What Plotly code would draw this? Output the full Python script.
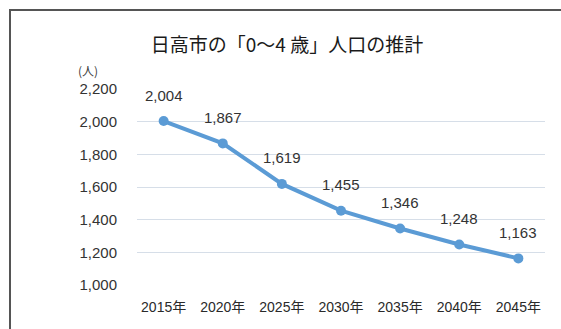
import plotly.graph_objects as go

years = ["2015年", "2020年", "2025年", "2030年", "2035年", "2040年", "2045年"]
population = [2004, 1867, 1619, 1455, 1346, 1248, 1163]
y_ticks = [1000, 1200, 1400, 1600, 1800, 2000, 2200]
y_tick_text = ["1,000", "1,200", "1,400", "1,600", "1,800", "2,000", "2,200"]
labels = [f"{v:,}" for v in population]

FONT = "Liberation Sans, Arial, Noto Sans CJK JP"
W, H = 561, 329
L, R, T, B = 137, 16, 89, 44
pw, ph = W - L - R, H - T - B

def px(x):
    return (x - L) / pw

def py(y):
    return (H - B - y) / ph

fig = go.Figure()
fig.add_trace(go.Scatter(
    x=years, y=population, mode="lines+markers",
    line=dict(color="#5B9BD5", width=4),
    marker=dict(color="#5B9BD5", size=10),
    cliponaxis=False, showlegend=False,
))

annotations = [
    dict(x=yr, y=v, text=t, xref="x", yref="y", showarrow=False,
         xanchor="center", yanchor="middle", yshift=26,
         font=dict(family=FONT, size=15, color="#333333"))
    for yr, v, t in zip(years, population, labels)
]
annotations.append(
    dict(text="(人)", xref="paper", yref="paper", x=px(88), y=py(70),
         showarrow=False, xanchor="center", yanchor="middle",
         font=dict(family="Noto Sans CJK JP", size=12, color="#404040")))

fig.update_layout(
    width=W, height=H,
    margin=dict(l=L, r=R, t=T, b=B),
    paper_bgcolor="white", plot_bgcolor="white",
    title=dict(text="日高市の「0～4 歳」人口の推計",
               font=dict(family="Noto Sans CJK JP", size=19, color="#1a1a1a"),
               x=px(287), xanchor="center", xref="paper",
               y=1 - 45 / H, yanchor="middle"),
    xaxis=dict(type="category", showgrid=False, showline=False, zeroline=False,
               ticks="", tickfont=dict(family=FONT, size=14, color="#2a2a2a"),
               ticklabelstandoff=12),
    yaxis=dict(range=[1000, 2200], tickvals=y_ticks, ticktext=y_tick_text,
               showgrid=True, gridcolor="#D6DEE8", gridwidth=1,
               zeroline=False, showline=False, ticks="",
               tickfont=dict(family=FONT, size=15, color="#333333"),
               ticklabelstandoff=19),
    shapes=[
        dict(type="line", xref="paper", yref="paper", x0=px(9), x1=px(561),
             y0=py(10), y1=py(10), line=dict(color="#555555", width=2)),
        dict(type="line", xref="paper", yref="paper", x0=px(10), x1=px(10),
             y0=py(10), y1=py(329), line=dict(color="#555555", width=2)),
    ],
    annotations=annotations,
)

fig.write_html("out.html")
